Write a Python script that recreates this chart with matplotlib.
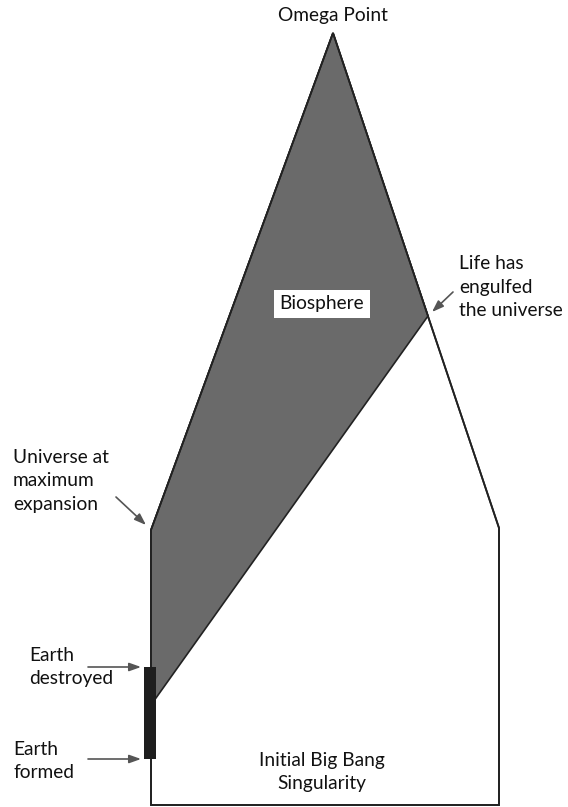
import matplotlib
matplotlib.use("Agg")
import matplotlib.pyplot as plt
from matplotlib.patches import Polygon, Rectangle

plt.rcParams['font.family'] = ['Lato', 'DejaVu Sans']

# Universe outline (x = spatial extent, y = time, upward)
universe_x = [151, 499, 499, 333, 151]
universe_y = [2, 2, 279, 774, 277]

# Biosphere region
bio_x = [333, 428, 151, 151]
bio_y = [774, 491, 102, 277]

# Earth existence interval
earth_x = 150
earth_formed = 48
earth_destroyed = 140

labels_omega = "Omega Point"
labels_life = "Life has\nengulfed\nthe universe"
labels_maxexp = "Universe at\nmaximum\nexpansion"
labels_destroyed = "Earth\ndestroyed"
labels_formed = "Earth\nformed"
labels_bigbang = "Initial Big Bang\nSingularity"
labels_bio = "Biosphere"

fig = plt.figure(figsize=(5.68, 8.07), dpi=100)
ax = fig.add_axes([0, 0, 1, 1])
ax.set_xlim(0, 568)
ax.set_ylim(0, 807)
ax.axis('off')

ax.add_patch(Polygon(list(zip(universe_x, universe_y)), closed=True,
                     facecolor='white', edgecolor='#222222', lw=1.3, zorder=1))
ax.add_patch(Polygon(list(zip(bio_x, bio_y)), closed=True,
                     facecolor='#6a6a6a', edgecolor='#222222', lw=1.2, zorder=2))
ax.add_patch(Polygon(list(zip(universe_x, universe_y)), closed=True,
                     facecolor='none', edgecolor='#222222', lw=1.3, zorder=3))
ax.add_patch(Rectangle((earth_x - 6, earth_formed), 12, earth_destroyed - earth_formed,
                       facecolor='#1e1e1e', edgecolor='none', zorder=4))

fs = 13.8
ls = 1.48
tc = '#111111'
ax.text(333, 791, labels_omega, ha='center', va='center', fontsize=fs, color=tc)
ax.text(459, 520, labels_life, ha='left', va='center', fontsize=fs, color=tc, linespacing=ls)
ax.text(13, 326, labels_maxexp, ha='left', va='center', fontsize=fs, color=tc, linespacing=ls)
ax.text(29, 140, labels_destroyed, ha='left', va='center', fontsize=fs, color=tc, linespacing=ls)
ax.text(13, 46, labels_formed, ha='left', va='center', fontsize=fs, color=tc, linespacing=ls)
ax.text(322, 35, labels_bigbang, ha='center', va='center', fontsize=fs, color=tc, linespacing=ls)
ax.text(322, 503, labels_bio, ha='center', va='center', fontsize=fs, color=tc,
        zorder=5, bbox=dict(boxstyle='square,pad=0.3', facecolor='white', edgecolor='none'))

arrow = dict(arrowstyle='-|>,head_length=0.7,head_width=0.25', color='#555555', lw=1.2,
             shrinkA=0, shrinkB=0)
ax.annotate('', xy=(141, earth_destroyed), xytext=(88, earth_destroyed), arrowprops=arrow, zorder=6)
ax.annotate('', xy=(141, earth_formed), xytext=(88, earth_formed), arrowprops=arrow, zorder=6)
ax.annotate('', xy=(146, 282), xytext=(116, 310), arrowprops=arrow, zorder=6)
ax.annotate('', xy=(432, 495), xytext=(453, 515), arrowprops=arrow, zorder=6)

fig.savefig('out.png', dpi=100)
